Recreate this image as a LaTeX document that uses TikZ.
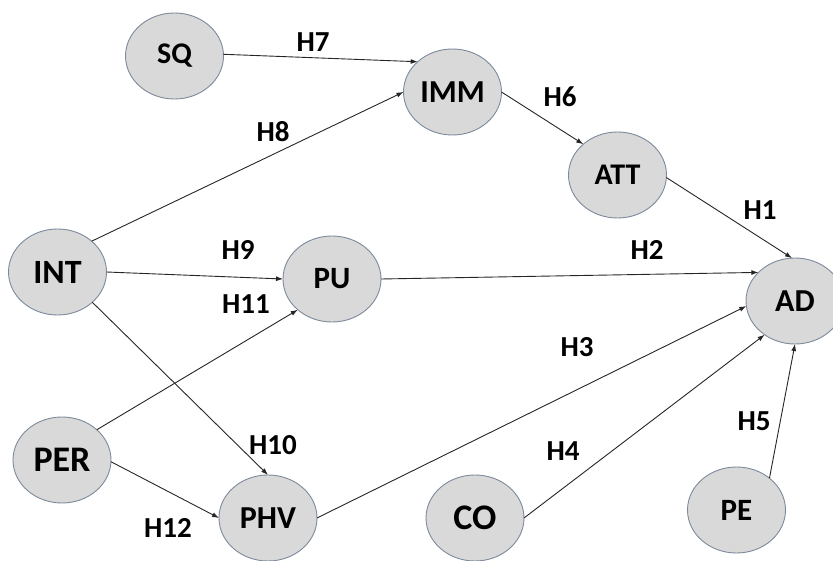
\documentclass[tikz,border=0pt]{standalone}
\usepackage{fontspec}
\setmainfont{Carlito}
\usetikzlibrary{arrows.meta,shapes.geometric}
\definecolor{nodefill}{HTML}{D9D9D9}
\definecolor{nodeline}{HTML}{7D8A9C}
\definecolor{edgecol}{HTML}{262626}
\tikzset{
  var/.style={ellipse, draw=nodeline, fill=nodefill, line width=0.9pt,
    minimum width=98pt, minimum height=86pt, inner sep=0pt, outer sep=0pt,
    font=\bfseries\fontsize{32}{36}\selectfont},
  hyp/.style={font=\bfseries\fontsize{29}{33}\selectfont, inner sep=0pt},
  arr/.style={draw=edgecol, line width=0.9pt, -{Latex[length=7pt,width=5pt]}}
}
\begin{document}
\begin{tikzpicture}[x=1pt,y=-1pt]
\useasboundingbox (0,0) rectangle (833,561);
\begin{scope}
\clip (0,0) rectangle (833,561);
\node[var, font=\bfseries\fontsize{30}{34}\selectfont] (sq) at (174.5,56) {SQ};
\node[var] (imm) at (452.5,92) {IMM};
\node[var, font=\bfseries\fontsize{30}{34}\selectfont] (att) at (617.5,175) {ATT};
\node[var, font=\bfseries\fontsize{34}{38}\selectfont] (int) at (57.5,272) {INT};
\node[var, font=\bfseries\fontsize{31}{35}\selectfont] (pu) at (332,279) {PU};
\node[var] (ad) at (795,301) {AD};
\node[var, font=\bfseries\fontsize{36}{40}\selectfont] (per) at (62,460) {PER};
\node[var] (phv) at (268,518) {PHV};
\node[var, font=\bfseries\fontsize{36}{40}\selectfont] (co) at (475,518) {CO};
\node[var, font=\bfseries\fontsize{31}{35}\selectfont] (pe) at (736.5,510) {PE};

\draw[arr] (sq.2) -- (imm.139);
\draw[arr] (int.42) -- (imm.180);
\draw[arr] (imm.0) -- (att.138);
\draw[arr] (att.357) -- (ad.94);
\draw[arr] (int.0) -- (pu.180);
\draw[arr] (pu.0) -- (ad.142);
\draw[arr] (per.41) -- (pu.222);
\draw[arr] (int.319) -- (phv.90);
\draw[arr] (per.358) -- (phv.180);
\draw[arr] (phv.0) -- (ad.186);
\draw[arr] (co.0) -- (ad.228);
\draw[arr] (pe.44) -- (ad.270);
\end{scope}

\node[hyp] (h7) at (313,42) {H7};
\node[hyp] (h8) at (273,132) {H8};
\node[hyp] (h6) at (560,97) {H6};
\node[hyp] (h1) at (760,210) {H1};
\node[hyp] (h2) at (647,250) {H2};
\node[hyp] (h9) at (238,250) {H9};
\node[hyp] (h11) at (246,304) {H11};
\node[hyp] (h3) at (577,347) {H3};
\node[hyp] (h4) at (563,451) {H4};
\node[hyp] (h5) at (754,421) {H5};
\node[hyp] (h10) at (273,445) {H10};
\node[hyp] (h12) at (168,528) {H12};
\end{tikzpicture}
\end{document}
